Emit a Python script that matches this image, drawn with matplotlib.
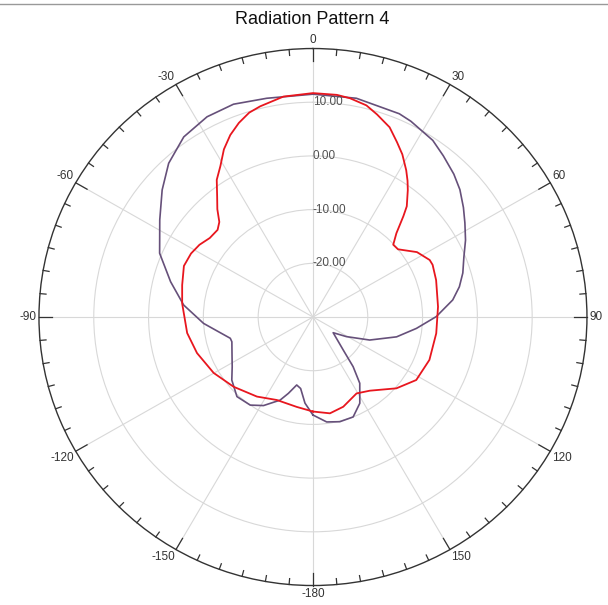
import numpy as np
import matplotlib
matplotlib.use('Agg')
import matplotlib.pyplot as plt
from matplotlib.lines import Line2D

plt.rcParams['font.family'] = ['Liberation Sans', 'DejaVu Sans']

#
# data (angle in deg, clockwise from top; gain in dB)
#
title = 'Radiation Pattern 4'

purple_deg = [-180, -174.8, -170.4, -166.8, -162.5, -158.8, -151.3, -145.1, -136.9, -128.4,
              -122.1, -114.6, -107.3, -104.7, -98.4, -93.4, -84.6, -75.8, -67.0, -57.1,
              -49.3, -42.6, -35.1, -27.4, -20.1, -11.7, 0, 11.0, 22.6, 26.1,
              33.6, 38.4, 44.0, 48.5, 53.4, 57.7, 62.8, 68.0, 73.3, 78.1, 82.9,
              89.8, 96.4, 103.6, 112.5, 120.9, 128.4, 138.1, 141.6, 145.3, 152.0,
              158.5, 165.9, 172.7, 180]
purple_db = [-11.75, -13.9, -16.5, -17.0, -15.1, -13.4, -11.2, -10.0, -9.7, -11.1,
             -12.6, -13.75, -14.5, -14.4, -12.3, -10.0, -6.3, -3.2, 0.4, 3.3,
             6.3, 8.9, 11.0, 12.0, 12.2, 11.6, 11.5, 11.5, 11.0, 10.6,
             9.5, 8.3, 7.0, 5.8, 4.2, 2.8, 1.3, -0.3, -1.45, -2.7, -4.3,
             -7.5, -11.0, -14.3, -18.8, -22.9, -25.3, -21.7, -18.2, -15.0, -11.8,
             -10.0, -9.9, -10.3, -11.75]

red_deg = [-180, -170.0, -156.9, -145.4, -131.9, -119.9, -107.6, -97.4, -84.0, -76.0,
           -68.0, -62.0, -57.0, -52.0, -47.0, -44.0, -41.0, -38.0, -34.5, -31.0,
           -27.5, -24.0, -20.5, -17.0, -13.8, -7.5, 0, 6.0, 9.4, 13.9,
           17.2, 21.6, 25.2, 28.3, 31.9, 34.2, 36.2, 39.7, 41.3, 44.3,
           47.4, 50.9, 53.0, 57.5, 63.5, 66.0, 73.0, 85.2, 97.7, 110.6,
           121.9, 131.1, 142.9, 150.8, 161.7, 170.2, 180]
red_db = [-12.4, -13.0, -13.2, -12.0, -10.55, -9.1, -7.8, -6.85, -6.0, -5.4,
          -4.6, -4.8, -5.3, -6.1, -6.2, -5.4, -3.4, -1.6, 1.0, 2.8,
          5.2, 7.1, 8.6, 9.8, 10.4, 11.4, 11.7, 11.6, 11.3, 10.6,
          9.5, 8.0, 6.0, 4.4, 2.2, 0.7, -0.7, -3.2, -5.0, -8.2,
          -10.1, -10.0, -9.3, -7.5, -6.2, -6.1, -6.5, -7.1, -7.3, -7.3,
          -7.8, -9.8, -12.8, -13.7, -12.4, -11.8, -12.4]

theta_ticks = [0, 30, 60, 90, 120, 150, 180, 210, 240, 270, 300, 330]
theta_labels = ['0', '30', '60', '90', '120', '150', '-180', '-150', '-120', '-90', '-60', '-30']
r_ticks = [-20, -10, 0, 10]
r_min, r_max = -30, 20

#
# figure
#
fig = plt.figure(figsize=(6.08, 6.05), dpi=100)
ax = fig.add_axes([0.0641, 0.0322, 0.9013, 0.8876], projection='polar')
ax.set_aspect('auto')
ax.set_theta_zero_location('N')
ax.set_theta_direction(-1)
ax.set_ylim(r_min, r_max)

ax.plot(np.deg2rad(purple_deg), purple_db, color='#66507a', lw=1.2)
ax.plot(np.deg2rad(red_deg), red_db, color='#e8161e', lw=1.3)

# spokes every 30 deg, no matplotlib tick labels
ax.set_xticks(np.deg2rad(theta_ticks))
ax.set_xticklabels([])
ax.tick_params(axis='x', length=0)

# tick marks on the rim, pointing inward: 5 deg minor, 30 deg major
for d in range(0, 360, 5):
    t = np.deg2rad(d)
    inner = r_max - (2.4 if d % 30 == 0 else 1.1)
    ax.plot([t, t], [inner, r_max], color='#333333', lw=0.9, clip_on=False)

# angle labels just outside the rim
for d, lab in zip(theta_ticks, theta_labels):
    s, c = np.sin(np.deg2rad(d)), np.cos(np.deg2rad(d))
    ha = 'left' if s > 0.3 else ('right' if s < -0.3 else 'center')
    va = 'bottom' if c > 0.3 else ('top' if c < -0.3 else 'center')
    ax.text(np.deg2rad(d), r_max + 0.4, lab, ha=ha, va=va, fontsize=8.5,
            color='#333333', clip_on=False)

# radial grid, labels drawn next to the 0 deg spoke
ax.set_yticks(r_ticks)
ax.set_yticklabels([])
ax.grid(True, color='#d8d8d8', lw=0.8)
for v in r_ticks:
    ax.text(0, v, f'{v:.2f}', ha='left', va='center', fontsize=8.5, color='#505050')

ax.spines['polar'].set_color('#333333')
ax.spines['polar'].set_linewidth(1.0)

fig.text(0.514, 1 - 20 / 605, title, ha='center', va='center', fontsize=13, color='#111111')
fig.add_artist(Line2D([0, 1], [1 - 4 / 605, 1 - 4 / 605], color='#999999', lw=1))

fig.savefig('out.png', dpi=100)
